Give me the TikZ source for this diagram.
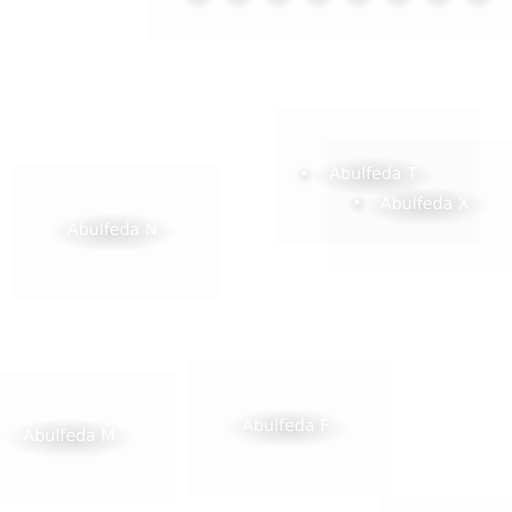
\documentclass[tikz,border=0pt]{standalone}
\usepackage{fontspec}
\setmainfont{DejaVu Sans}
\usetikzlibrary{calc, fadings, backgrounds}

\tikzfading[name=glow, inner color=transparent!0, outer color=transparent!100]

\begin{document}
\begin{tikzpicture}[
            x = 0.02cm, y = -0.02cm, % one unit per pixel, y going down
            every node/.style = {
                font = \fontsize{9.3pt}{11pt}\selectfont,
                text = white,
                inner sep = 0pt,
                anchor = base west
            },
            panel/.style = {fill = black, fill opacity = 0.009},
            halo/.style = {fill = black, fill opacity = 0.13, path fading = glow},
            dot/.style = {circle, fill = white, minimum size = 2.8pt, anchor = center}
        ]

        % labels
        \node (T) at (329,179) {Abulfeda T};
        \node (X) at (380,209) {Abulfeda X};
        \node (N) at (67,235) {Abulfeda N};
        \node (M) at (23,441) {Abulfeda M};
        \node (F) at (242,431) {Abulfeda F};

        % markers
        \node[dot] (dT) at (304,173) {};
        \node[dot] (dX) at (357,202) {};

        \begin{scope}[on background layer]
            \path[use as bounding box, fill = white] (0,0) rectangle (512,512);

            % panels
            \fill[panel] (150,0) rectangle (512,40);
            \fill[panel] (276,108) rectangle (479,243);
            \fill[panel] (327,139) rectangle (512,273);
            \fill[panel] (13,165) rectangle (219,299);
            \fill[panel] (0,371) rectangle (177,505);
            \fill[panel] (189,361) rectangle (392,494);
            \fill[panel] (378,495) rectangle (512,512);

            % shadows
            \foreach \n in {T, X, N, M, F}
                \fill[halo] ($(\n.north west)+(-18,-10)$) rectangle ($(\n.south east)+(18,16)$);
            \foreach \n in {dT, dX}
                \fill[halo, fill opacity = 0.08] ($(\n)+(0,2)$) circle [radius = 10];
            \foreach \x in {198, 238, ..., 478}
                \fill[halo, fill opacity = 0.09] (\x,-1) ellipse [x radius = 16, y radius = 10];
        \end{scope}
    \end{tikzpicture}
\end{document}
